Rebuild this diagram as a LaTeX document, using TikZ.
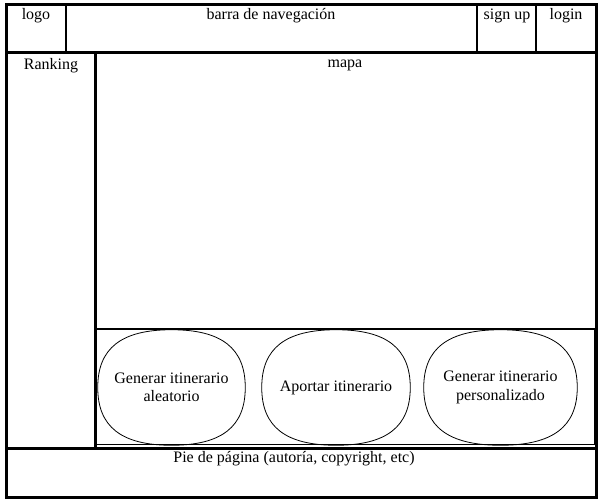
\documentclass[tikz,border=0pt]{standalone}
\usepackage{fontspec}
\setmainfont{Liberation Serif}
\usetikzlibrary{calc}

\begin{document}
\begin{tikzpicture}[line cap=rect,line join=miter,x=0.75pt,y=-0.75pt,
    font=\fontsize{12}{13.8}\selectfont,
    marco/.style={draw=black,line width=2.25pt},
    divisor/.style={draw=black,line width=1.5pt},
    rotulo/.style={anchor=north,inner sep=1pt},
    boton/.style={align=center,inner sep=0pt,minimum height=86.25pt}]
    \useasboundingbox (0,0) rectangle (604,503);
    % cabecera
    \draw[marco] (6,5) rectangle (596,53);
    \draw[divisor] (66,5) -- (66,53);
    \draw[divisor] (477,5) -- (477,53);
    \draw[divisor] (536,5) -- (536,53);
    \node[rotulo] (logo) at (36,7) {logo};
    \node[rotulo] (barra) at (271,7) {barra de navegación};
    \node[rotulo] (signup) at (507,7) {sign up};
    \node[rotulo] (login) at (566,7) {login};
    % cuerpo
    \draw[marco] (6,53) rectangle (596,448);
    \draw[marco] (95,53) -- (95,448);
    \draw[line width=0.75pt] (95,329) rectangle (594,444.5);
    \draw[divisor] (95,329) -- (596,329);
    \node[rotulo] (ranking) at (51,57) {Ranking};
    \node[rotulo] (mapa) at (345,58) {mapa};
    \node[boton,minimum width=110.25pt] (aleatorio) at (171.5,387.5) {Generar itinerario\\aleatorio};
    \node[boton,minimum width=111pt] (aportar) at (336,387.5) {Aportar itinerario};
    \node[boton,minimum width=114.75pt] (personalizado) at (500.5,387.5) {Generar itinerario\\personalizado};
    \foreach \b in {aleatorio,aportar,personalizado}
    \draw[line width=0.6pt] (\b.east)
        .. controls ($(\b.east)!0.68!(\b.north east)$) and ($(\b.north)!0.68!(\b.north east)$) .. (\b.north)
        .. controls ($(\b.north)!0.68!(\b.north west)$) and ($(\b.west)!0.68!(\b.north west)$) .. (\b.west)
        .. controls ($(\b.west)!0.68!(\b.south west)$) and ($(\b.south)!0.68!(\b.south west)$) .. (\b.south)
        .. controls ($(\b.south)!0.68!(\b.south east)$) and ($(\b.east)!0.68!(\b.south east)$) .. (\b.east) -- cycle;
    % pie
    \draw[marco] (6,448) rectangle (596,497);
    \node[rotulo] (pie) at (294,450) {Pie de página (autoría, copyright, etc)};
\end{tikzpicture}
\end{document}
